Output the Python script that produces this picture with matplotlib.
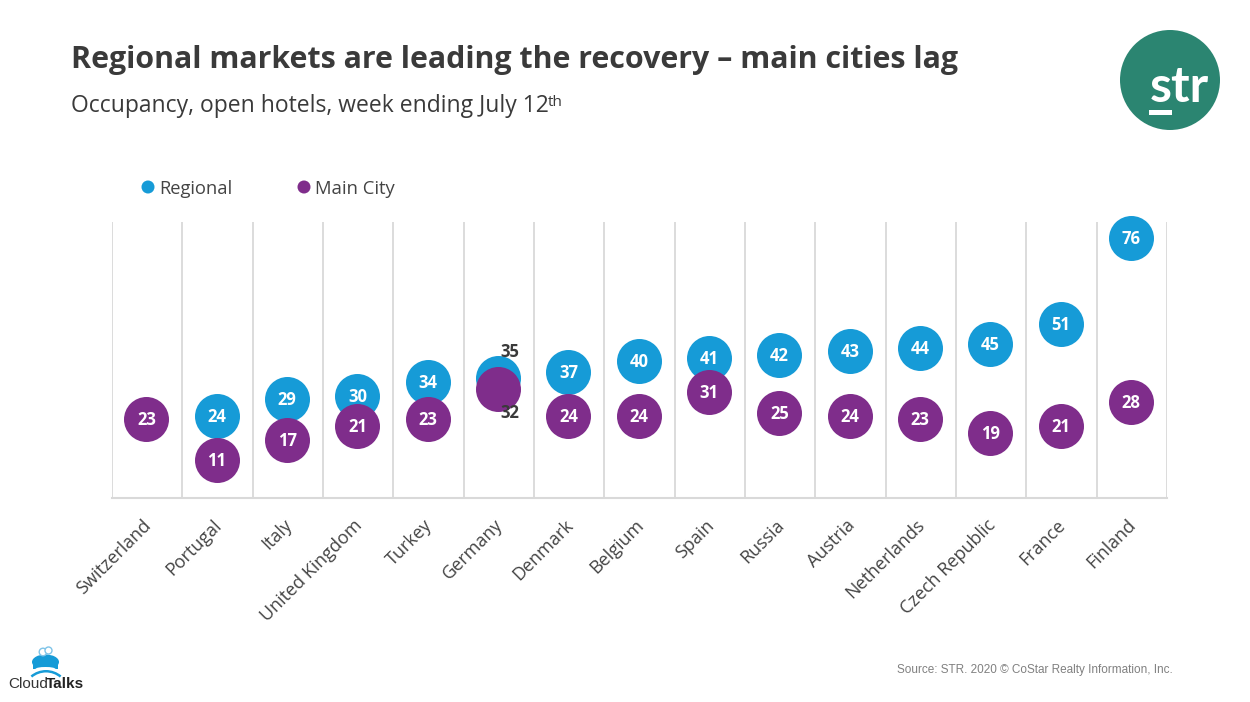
import matplotlib
matplotlib.use('Agg')
import matplotlib.pyplot as plt
from matplotlib.patches import Circle, Ellipse, Rectangle, Wedge
from matplotlib.transforms import ScaledTranslation

countries = ['Switzerland', 'Portugal', 'Italy', 'United Kingdom', 'Turkey', 'Germany', 'Denmark',
             'Belgium', 'Spain', 'Russia', 'Austria', 'Netherlands', 'Czech Republic', 'France', 'Finland']
regional = [None, 24, 29, 30, 34, 35, 37, 40, 41, 42, 43, 44, 45, 51, 76]
main_city = [23, 11, 17, 21, 23, 32, 24, 24, 31, 25, 24, 23, 19, 21, 28]

BLUE = '#169BD7'
PURPLE = '#7F2D8B'
TEAL = '#2B8571'
DARK = '#3A3A3A'
GRID = '#D9D9D9'
W, H = 1250, 702

plt.rcParams['font.family'] = ['Open Sans', 'DejaVu Sans']

fig = plt.figure(figsize=(W / 100, H / 100), dpi=100)
ax = fig.add_axes([112 / W, 1 - 498 / H, (1167 - 112) / W, (498 - 222) / H])

x = list(range(len(countries)))
ax.set_xlim(0, len(countries))
ax.set_ylim(0, 80.8)

for i in range(len(countries) + 1):
    ax.axvline(i, color=GRID, lw=1.3, zorder=1)

size = 1050
for i in x:
    if regional[i] is not None:
        ax.scatter(i + 0.49, regional[i], s=size, color=BLUE, lw=0, zorder=3, clip_on=False)
for i in x:
    ax.scatter(i + 0.49, main_city[i], s=size, color=PURPLE, lw=0, zorder=4, clip_on=False)

# labels sit inside the circles, except Germany where they overlap
for i in x:
    if countries[i] == 'Germany':
        ax.text(i + 0.66, regional[i] + 7.7, str(regional[i]), ha='center', va='center',
                fontsize=12, fontweight='bold', color=DARK, zorder=6)
        ax.text(i + 0.66, main_city[i] - 7.1, str(main_city[i]), ha='center', va='center',
                fontsize=12, fontweight='bold', color=DARK, zorder=6)
        continue
    if regional[i] is not None:
        ax.text(i + 0.49, regional[i] - 0.3, str(regional[i]), ha='center', va='center',
                fontsize=12, fontweight='bold', color='white', zorder=6)
    ax.text(i + 0.49, main_city[i] - 0.3, str(main_city[i]), ha='center', va='center',
            fontsize=12, fontweight='bold', color='white', zorder=6)

for s in ['top', 'left', 'right']:
    ax.spines[s].set_visible(False)
ax.spines['bottom'].set_color(GRID)
ax.spines['bottom'].set_linewidth(1.5)
ax.set_yticks([])
ax.set_xticks([i + 0.5 for i in x])
ax.set_xticklabels(countries, rotation=45, ha='right', rotation_mode='anchor',
                   fontsize=13, color='#444444')
ax.tick_params(axis='x', length=0, pad=13)
shift = ScaledTranslation(-5 / 100, 0, fig.dpi_scale_trans)
for lab in ax.get_xticklabels():
    lab.set_transform(lab.get_transform() + shift)

# everything else is placed in pixel coords on an overlay
ov = fig.add_axes([0, 0, 1, 1], zorder=10)
ov.set_xlim(0, W)
ov.set_ylim(H, 0)
ov.axis('off')
ov.patch.set_alpha(0)

ov.text(71, 60, 'Regional markets are leading the recovery \u2013 main cities lag', fontsize=21.9,
        fontweight='bold', color=DARK, va='center', ha='left')
ov.text(71, 106, 'Occupancy, open hotels, week ending July 12', fontsize=16.5, color=DARK,
        va='center', ha='left')
ov.text(548, 102, 'th', fontsize=11, color=DARK, va='center', ha='left')

# legend
ov.add_patch(Circle((148, 187), 6.5, color=BLUE, lw=0))
ov.text(159, 189, 'Regional', fontsize=13.2, color='#444444', va='center', ha='left')
ov.add_patch(Circle((304, 187), 6.5, color=PURPLE, lw=0))
ov.text(315, 189, 'Main City', fontsize=13.3, color='#444444', va='center', ha='left')

# str logo
ov.add_patch(Circle((1170, 80), 50, color=TEAL, lw=0))
ov.text(1179, 88, 'str', fontsize=36, fontweight='bold', color='white', va='center', ha='center',
        family=['Lato', 'DejaVu Sans'])
ov.add_patch(Rectangle((1149, 110), 23, 5, color='white', lw=0))

# CloudTalks logo
ov.add_patch(Ellipse((45.5, 662), 27, 15, color=BLUE, lw=0))
ov.add_patch(Rectangle((33, 662), 25, 7, color=BLUE, lw=0))
ov.add_patch(Ellipse((45.5, 669), 20, 4, color='white', lw=0))
ov.add_patch(Wedge((46, 694), 24, 230, 310, width=2.5, color=BLUE, lw=0))
ov.add_patch(Circle((43, 652), 3.8, fc='white', ec='#7FC4E8', lw=1))
ov.add_patch(Circle((48.5, 650.5), 3.5, fc='white', ec='#7FC4E8', lw=1))
ov.text(8, 684, 'Cloud', fontsize=11, color='#333333', va='center', ha='left',
        family=['Liberation Sans', 'DejaVu Sans'])
ov.text(46, 684, 'Talks', fontsize=11, fontweight='bold', color='#222222', va='center', ha='left',
        family=['Liberation Sans', 'DejaVu Sans'])

ov.text(1173, 670, 'Source: STR. 2020 \u00a9 CoStar Realty Information, Inc.', fontsize=8.5,
        color='#808080', va='center', ha='right', family=['Liberation Sans', 'DejaVu Sans'])

fig.savefig('out.png', dpi=100)
